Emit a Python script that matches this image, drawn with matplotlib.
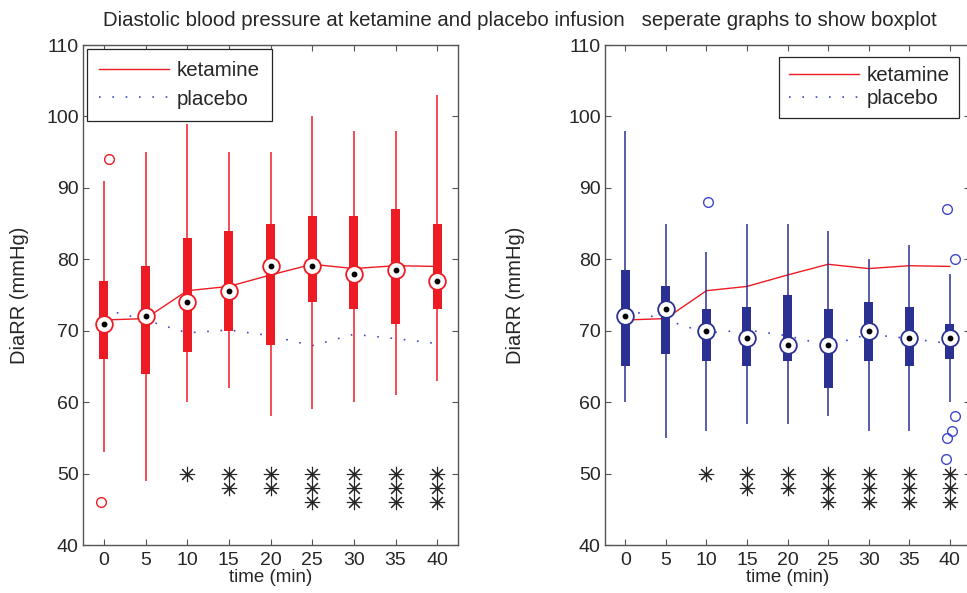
import matplotlib
matplotlib.use("Agg")
import matplotlib.pyplot as plt

plt.rcParams['font.family'] = ['Liberation Sans', 'DejaVu Sans']

times = [0, 5, 10, 15, 20, 25, 30, 35, 40]

# ketamine boxplot stats
ket_q1 = [66, 64, 67, 70, 68, 74, 73, 71, 73]
ket_q3 = [77, 79, 83, 84, 85, 86, 86, 87, 85]
ket_lo = [53, 49, 60, 62, 58, 59, 60, 61, 63]
ket_hi = [91, 95, 99, 95, 95, 100, 98, 98, 103]
ket_med = [71, 72, 74, 75.5, 79, 79, 78, 78.5, 77]
ket_mean = [71.5, 71.7, 75.6, 76.2, 77.8, 79.3, 78.7, 79.1, 79.0]
ket_out_t = [0, 0]
ket_out_dx = [0.6, -0.4]
ket_out_val = [94, 46]

# placebo boxplot stats
pla_q1 = [65, 66.8, 65.8, 65, 65.8, 62, 65.8, 65, 66]
pla_q3 = [78.5, 76.2, 73, 73.3, 75, 73, 74, 73.3, 71]
pla_lo = [60, 55, 56, 57, 57, 58, 56, 56, 60]
pla_hi = [98, 85, 81, 85, 85, 84, 80, 82, 78]
pla_med = [72, 73, 70, 69, 68, 68, 70, 69, 69]
pla_mean = [73.0, 71.5, 69.7, 70.1, 69.3, 67.9, 69.5, 68.9, 68.2]
pla_out_t = [10, 40, 40, 40, 40, 40, 40]
pla_out_dx = [0.2, -0.37, 0.65, 0.62, 0.25, -0.28, -0.49]
pla_out_val = [88, 87, 80, 58, 56, 55, 52]

# significance asterisks: number of stars per time point
star_counts = [0, 0, 1, 2, 2, 3, 3, 3, 3]
star_vals = [50, 48, 46]

RED = '#ED1C24'
BLUE_BOX = '#2B3192'
BLUE_LINE = '#3F48C8'
TXT = '#262626'
SPINE = '#555555'


def draw_panel(ax, q1, q3, lo, hi, med, outs, color, out_color, ylabel_x):
    ax.plot(times, ket_mean, '-', color=RED, lw=1.0, zorder=1, label='ketamine')
    ax.plot(times, pla_mean, linestyle=(0, (1, 7)), color=BLUE_LINE, lw=1.2,
            zorder=1, label='placebo')
    ax.vlines(times, lo, hi, color=color, lw=1.1, zorder=2)
    heights = [b - a for a, b in zip(q1, q3)]
    ax.bar(times, heights, bottom=q1, width=1.1, color=color, lw=0, zorder=3)
    ot, odx, ov = outs
    ax.plot([t + d for t, d in zip(ot, odx)], ov, 'o', mfc='none', mec=out_color,
            ms=7, mew=1.0, zorder=4)
    ax.plot(times, med, 'o', mfc='white', mec=color, ms=12, mew=1.3, zorder=5)
    ax.plot(times, med, 'o', color='black', ms=3.2, zorder=6)
    for t, n in zip(times, star_counts):
        if n:
            ax.plot([t] * n, star_vals[:n], linestyle='none', marker=(8, 2, 0),
                    color=TXT, ms=11, mew=0.8, zorder=6)

    ax.set_xlim(-2.5, 42.5)
    ax.set_ylim(40, 110)
    ax.set_xticks(times)
    ax.set_yticks(range(40, 111, 10))
    ax.tick_params(direction='in', length=4, width=0.8, top=True, right=True,
                   labelsize=14, colors=SPINE, labelcolor=TXT, pad=3)
    ax.tick_params(axis='x', pad=5)
    for s in ax.spines.values():
        s.set_color(SPINE)
        s.set_linewidth(1.0)
    ax.set_xlabel('time (min)', fontsize=13.5, color=TXT, labelpad=0)
    ax.set_ylabel('DiaRR (mmHg)', fontsize=14.5, color=TXT)
    ax.yaxis.set_label_coords(ylabel_x, 0.5)


fig = plt.figure(figsize=(9.67, 5.93), dpi=100)
ax1 = fig.add_axes([83 / 967, 48 / 593, 375 / 967, 500 / 593])
ax2 = fig.add_axes([605 / 967, 48 / 593, 365 / 967, 500 / 593])

draw_panel(ax1, ket_q1, ket_q3, ket_lo, ket_hi, ket_med,
           (ket_out_t, ket_out_dx, ket_out_val), RED, RED, -0.144)
draw_panel(ax2, pla_q1, pla_q3, pla_lo, pla_hi, pla_med,
           (pla_out_t, pla_out_dx, pla_out_val), BLUE_BOX, BLUE_LINE, -0.219)

leg1 = ax1.legend(loc='upper left', bbox_to_anchor=(87 / 967, 1 - 49 / 593),
                  bbox_transform=fig.transFigure, borderaxespad=0, fontsize=14.8,
                  fancybox=False, handlelength=3.4, handletextpad=0.35,
                  labelspacing=0.45, borderpad=0.6, framealpha=1)
leg2 = ax2.legend(loc='upper right', bbox_to_anchor=(959 / 967, 1 - 57 / 593),
                  bbox_transform=fig.transFigure, borderaxespad=0, fontsize=14.8,
                  fancybox=False, handlelength=3.4, handletextpad=0.4,
                  labelspacing=0.2, borderpad=0.45, framealpha=1)
for leg in (leg1, leg2):
    leg.get_frame().set_edgecolor(TXT)
    leg.get_frame().set_linewidth(0.9)
    for txt in leg.get_texts():
        txt.set_color(TXT)

fig.text(0.538, 1 - 20 / 593,
         'Diastolic blood pressure at ketamine and placebo infusion   seperate graphs to show boxplot',
         ha='center', va='center', fontsize=14.7, color=TXT)

fig.savefig('out.png', dpi=100)
